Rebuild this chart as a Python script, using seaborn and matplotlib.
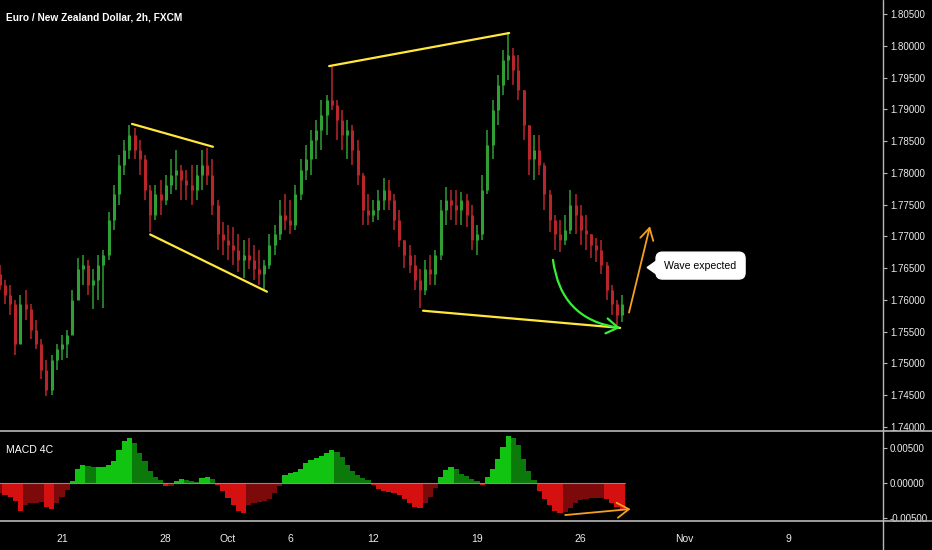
import numpy as np
import pandas as pd
import matplotlib
matplotlib.use('Agg')
import matplotlib.pyplot as plt
import seaborn as sns
from matplotlib.patches import Polygon
from matplotlib.lines import Line2D

# ---------------- data (6h bars, EUR/NZD) ----------------
first_open = 1.7640
high = [1.7655, 1.7632, 1.7624, 1.7600, 1.7608, 1.7616, 1.7593, 1.7569, 1.7538, 1.7506,
        1.7514, 1.7530, 1.7545, 1.7553, 1.7616, 1.7666, 1.7671, 1.7663, 1.7648, 1.7671,
        1.7679, 1.7739, 1.7781, 1.7828, 1.7852, 1.7876, 1.7871, 1.7852, 1.7828, 1.7781,
        1.7781, 1.7789, 1.7797, 1.7821, 1.7836, 1.7813, 1.7805, 1.7813, 1.7813, 1.7836,
        1.7839, 1.7821, 1.7758, 1.7723, 1.7718, 1.7714, 1.7703, 1.7695, 1.7698, 1.7687,
        1.7679, 1.7663, 1.7703, 1.7718, 1.7758, 1.7766, 1.7758, 1.7781, 1.7821, 1.7844,
        1.7868, 1.7883, 1.7915, 1.7923, 1.7968, 1.7915, 1.7899, 1.7883, 1.7876, 1.7852,
        1.7800, 1.7766, 1.7758, 1.7773, 1.7792, 1.7789, 1.7766, 1.7742, 1.7695, 1.7687,
        1.7671, 1.7648, 1.7663, 1.7671, 1.7679, 1.7758, 1.7777, 1.7773, 1.7773, 1.7770,
        1.7766, 1.7750, 1.7718, 1.7797, 1.7868, 1.7915, 1.7954, 1.7993, 1.8022, 1.7997,
        1.7986, 1.7931, 1.7876, 1.7860, 1.7860, 1.7815, 1.7773, 1.7734, 1.7726, 1.7734,
        1.7773, 1.7766, 1.7750, 1.7734, 1.7703, 1.7698, 1.7695, 1.7660, 1.7624, 1.7600,
        1.7608]
low = [1.7616, 1.7593, 1.7577, 1.7514, 1.7530, 1.7569, 1.7538, 1.7522, 1.7475, 1.7448,
       1.7451, 1.7490, 1.7506, 1.7509, 1.7545, 1.7600, 1.7624, 1.7608, 1.7585, 1.7600,
       1.7588, 1.7663, 1.7710, 1.7750, 1.7797, 1.7821, 1.7821, 1.7797, 1.7758, 1.7707,
       1.7726, 1.7734, 1.7750, 1.7766, 1.7773, 1.7758, 1.7758, 1.7750, 1.7758, 1.7773,
       1.7781, 1.7734, 1.7679, 1.7671, 1.7663, 1.7655, 1.7644, 1.7635, 1.7648, 1.7632,
       1.7624, 1.7615, 1.7648, 1.7671, 1.7695, 1.7710, 1.7703, 1.7710, 1.7758, 1.7789,
       1.7797, 1.7821, 1.7836, 1.7860, 1.7899, 1.7852, 1.7836, 1.7821, 1.7813, 1.7781,
       1.7718, 1.7718, 1.7723, 1.7726, 1.7742, 1.7742, 1.7710, 1.7684, 1.7651, 1.7643,
       1.7616, 1.7588, 1.7608, 1.7624, 1.7624, 1.7663, 1.7718, 1.7726, 1.7718, 1.7718,
       1.7714, 1.7679, 1.7671, 1.7695, 1.7766, 1.7821, 1.7876, 1.7923, 1.7946, 1.7938,
       1.7915, 1.7852, 1.7797, 1.7789, 1.7797, 1.7742, 1.7707, 1.7679, 1.7676, 1.7687,
       1.7703, 1.7703, 1.7687, 1.7679, 1.7666, 1.7660, 1.7640, 1.7600, 1.7577, 1.7560,
       1.7566]
close = [1.7624, 1.7608, 1.7593, 1.7530, 1.7593, 1.7585, 1.7553, 1.7530, 1.7490, 1.7459,
         1.7506, 1.7522, 1.7530, 1.7545, 1.7600, 1.7648, 1.7655, 1.7624, 1.7632, 1.7655,
         1.7671, 1.7726, 1.7766, 1.7813, 1.7836, 1.7860, 1.7836, 1.7821, 1.7773, 1.7734,
         1.7766, 1.7758, 1.7781, 1.7797, 1.7805, 1.7789, 1.7781, 1.7773, 1.7797, 1.7813,
         1.7797, 1.7750, 1.7703, 1.7695, 1.7687, 1.7679, 1.7663, 1.7671, 1.7663, 1.7648,
         1.7640, 1.7655, 1.7687, 1.7703, 1.7734, 1.7726, 1.7718, 1.7766, 1.7805, 1.7821,
         1.7852, 1.7868, 1.7891, 1.7915, 1.7907, 1.7883, 1.7860, 1.7868, 1.7836, 1.7797,
         1.7742, 1.7734, 1.7742, 1.7758, 1.7773, 1.7758, 1.7726, 1.7695, 1.7671, 1.7655,
         1.7632, 1.7616, 1.7648, 1.7640, 1.7671, 1.7742, 1.7758, 1.7750, 1.7742, 1.7758,
         1.7734, 1.7695, 1.7703, 1.7773, 1.7844, 1.7899, 1.7938, 1.7978, 1.7986, 1.7962,
         1.7931, 1.7876, 1.7821, 1.7836, 1.7813, 1.7766, 1.7726, 1.7703, 1.7695, 1.7710,
         1.7750, 1.7734, 1.7710, 1.7703, 1.7687, 1.7679, 1.7655, 1.7616, 1.7593, 1.7577,
         1.7593]
macd_hist = [-0.00143, -0.00172, -0.00200, -0.00257, -0.00400, -0.00315, -0.00286, -0.00286, -0.00272, -0.00343,
             -0.00372, -0.00286, -0.00200, -0.00100, 0.00029, 0.00200, 0.00257, 0.00243, 0.00229, 0.00229,
             0.00229, 0.00257, 0.00315, 0.00472, 0.00601, 0.00644, 0.00572, 0.00429, 0.00315, 0.00172,
             0.00086, 0.00043, -0.00043, -0.00043, 0.00029, 0.00057, 0.00043, 0.00029, 0.00014, 0.00072,
             0.00086, 0.00057, -0.00029, -0.00114, -0.00215, -0.00315, -0.00400, -0.00429, -0.00315, -0.00286,
             -0.00272, -0.00257, -0.00229, -0.00143, -0.00043, 0.00114, 0.00143, 0.00157, 0.00200, 0.00286,
             0.00329, 0.00358, 0.00386, 0.00429, 0.00472, 0.00443, 0.00372, 0.00257, 0.00172, 0.00114,
             0.00072, 0.00043, -0.00029, -0.00086, -0.00114, -0.00129, -0.00143, -0.00172, -0.00229, -0.00286,
             -0.00343, -0.00358, -0.00286, -0.00200, -0.00072, 0.00086, 0.00186, 0.00229, 0.00200, 0.00129,
             0.00100, 0.00057, 0.00029, -0.00029, 0.00086, 0.00200, 0.00343, 0.00515, 0.00672, 0.00643,
             0.00543, 0.00343, 0.00172, 0.00043, -0.00114, -0.00229, -0.00315, -0.00400, -0.00429, -0.00415,
             -0.00358, -0.00286, -0.00243, -0.00229, -0.00215, -0.00215, -0.00215, -0.00229, -0.00286, -0.00343,
             -0.00372]

# date ticks (bar index of each date's first bar)
date_tick_pos = [12, 32, 44, 56, 72, 92, 112, 132, 152]
date_tick_labels = ['21', '28', 'Oct', '6', '12', '19', '26', 'Nov', '9']
price_ticks = [1.740, 1.745, 1.750, 1.755, 1.760, 1.765, 1.770, 1.775, 1.780,
               1.785, 1.790, 1.795, 1.800, 1.805]
macd_ticks = [-0.005, 0.0, 0.005]

# drawing annotations (anchor points as bar index, price)
flag_top = [(25.5, 1.7877), (41.1, 1.7841)]
flag_bottom = [(29.0, 1.7703), (51.5, 1.7613)]
highs_line = [(63.5, 1.7968), (98.2, 1.8020)]
lows_line = [(81.6, 1.7583), (119.6, 1.7556)]
green_arrow = [(106.65, 1.7663), (119.6, 1.7556)]
orange_arrow = [(121.3, 1.7580), (125.35, 1.7716)]
macd_arrow = [(109.0, -0.00458), (121.6, -0.00372)]
callout_pos = (135.1, 1.7654)
callout_tip = [(124.8, 1.7651), (127.6, 1.7667), (127.6, 1.7635)]
callout_text = 'Wave expected'
title = 'Euro / New Zealand Dollar, 2h, FXCM'

# ---------------- style ----------------
sns.set_theme(style='dark', rc={'axes.facecolor': 'black', 'figure.facecolor': 'black',
                                'axes.grid': False, 'axes.unicode_minus': False})
plt.rcParams['font.family'] = ['Liberation Sans', 'DejaVu Sans']

W, H = 932, 550
fig = plt.figure(figsize=(W / 100, H / 100), dpi=100, facecolor='black')
ax = fig.add_axes([0, (H - 431) / H, 883 / W, 431 / H])
axm = fig.add_axes([0, (H - 521) / H, 883 / W, 90 / H])

n = len(close)
idx = np.arange(n)
o = np.array([first_open] + close[:-1])
c = np.array(close)
hi = np.array(high)
lo = np.array(low)
up = c >= o
GREEN, RED = '#2f9f36', '#b8262b'
cols = np.where(up, GREEN, RED)
ax.vlines(idx, lo, hi, colors=cols, lw=1.1)
bot = np.minimum(o, c)
top = np.maximum(o, c)
top = np.maximum(top, bot + 0.00005)
ax.vlines(idx, bot, top, colors=cols, lw=2.2)

# MACD 4C histogram
h = np.array(macd_hist)
prev = np.concatenate([[h[0]], h[:-1]])
cat = np.where(h >= 0, np.where(h >= prev, 'up_rise', 'up_fall'),
               np.where(h < prev, 'dn_fall', 'dn_rise'))
df = pd.DataFrame({'bar': idx, 'hist': h, 'cat': cat})
palette = {'up_rise': '#12c412', 'up_fall': '#0b7a0b', 'dn_fall': '#d41010', 'dn_rise': '#7d0a0a'}
sns.barplot(data=df, x='bar', y='hist', hue='cat', palette=palette, native_scale=True,
            dodge=False, width=1.0, legend=False, errorbar=None, linewidth=0,
            saturation=1, ax=axm)
axm.plot([idx[0] - 0.5, idx[-1] + 0.5], [0, 0], color='#8a8a8a', lw=0.8)

xl = (0.05, 170.27)
for a in (ax, axm):
    a.set_xlim(*xl)
    a.set_facecolor('black')
    for s in a.spines.values():
        s.set_visible(False)
    a.set_xlabel('')
    a.set_ylabel('')
ax.set_ylim(1.73937, 1.80720)
axm.set_ylim(-0.00543, 0.00743)

TXT = '#ececec'
for a, ticks in ((ax, price_ticks), (axm, macd_ticks)):
    a.yaxis.tick_right()
    a.set_yticks(ticks)
    a.set_yticklabels(['%.5f' % t for t in ticks])
    a.tick_params(axis='y', colors='#b8b8b8', labelcolor=TXT, length=3, width=0.8,
                  labelsize=7, pad=2, direction='out')
ax.set_xticks([])
axm.set_xticks(date_tick_pos)
axm.set_xticklabels(date_tick_labels)
axm.tick_params(axis='x', colors='#b8b8b8', labelcolor=TXT, length=3, width=0.8,
                labelsize=7.5, pad=6, direction='out')
for t in ax.get_yticklabels() + axm.get_yticklabels():
    t.set_clip_on(False)

# frame lines
LC = '#b8b8b8'
fig.add_artist(Line2D([0, 1], [(H - 431) / H] * 2, transform=fig.transFigure, color=LC, lw=1.2))
fig.add_artist(Line2D([0, 1], [(H - 521) / H] * 2, transform=fig.transFigure, color=LC, lw=1.2))
fig.add_artist(Line2D([883 / W] * 2, [0, 1], transform=fig.transFigure, color=LC, lw=1.0))

# annotations
YEL = '#ffe83b'
for seg in (flag_top, flag_bottom, highs_line, lows_line):
    ax.plot([seg[0][0], seg[1][0]], [seg[0][1], seg[1][1]], color=YEL, lw=1.6,
            solid_capstyle='round', zorder=5)

ax.annotate('', xy=green_arrow[1], xytext=green_arrow[0],
            arrowprops=dict(arrowstyle='->,head_length=0.7,head_width=0.45', color='#35f035',
                            lw=1.6, connectionstyle='arc3,rad=0.38', shrinkA=0, shrinkB=0),
            zorder=6)
ORG = '#f5a020'
ax.annotate('', xy=orange_arrow[1], xytext=orange_arrow[0],
            arrowprops=dict(arrowstyle='->,head_length=0.7,head_width=0.4', color=ORG,
                            lw=1.3, shrinkA=0, shrinkB=0), zorder=6)
axm.annotate('', xy=macd_arrow[1], xytext=macd_arrow[0],
             arrowprops=dict(arrowstyle='->,head_length=0.7,head_width=0.45', color=ORG,
                             lw=1.3, shrinkA=0, shrinkB=0), zorder=6, annotation_clip=False)

ax.add_patch(Polygon(callout_tip, closed=True, fc='white', ec='white', zorder=7))
ax.text(callout_pos[0], callout_pos[1], callout_text, ha='center', va='center',
        fontsize=7.6, color='black', zorder=8,
        bbox=dict(boxstyle='round,pad=0.8,rounding_size=0.6', fc='white', ec='white'))

fig.text(6 / W, 1 - 17 / H, title, color='white', fontsize=7.3, fontweight='bold',
         ha='left', va='center')
fig.text(6 / W, 1 - 450 / H, 'MACD 4C', color='white', fontsize=7.6, ha='left', va='center')

fig.savefig('out.png', dpi=100, facecolor='black')
